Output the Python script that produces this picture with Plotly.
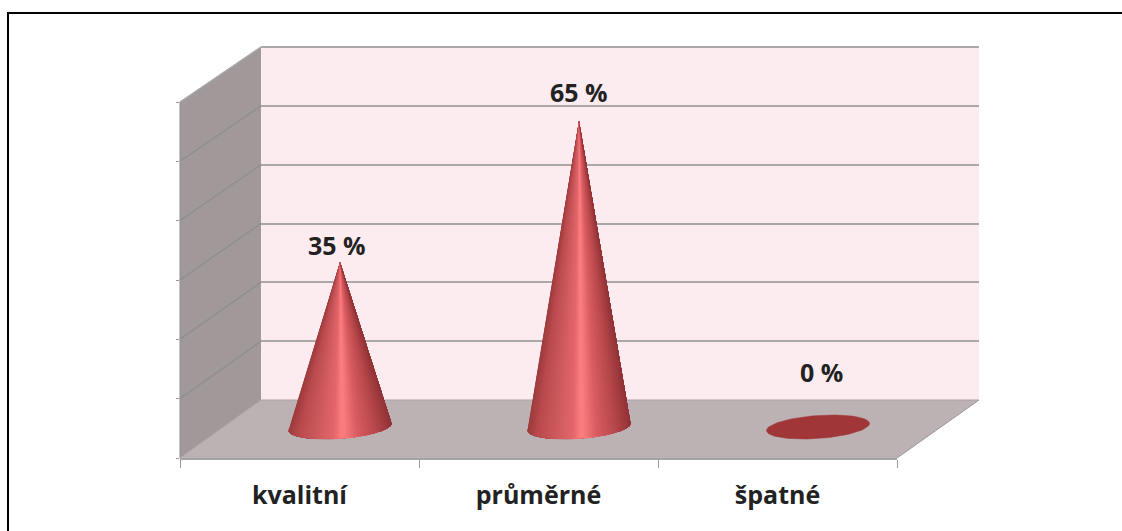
import numpy as np
import plotly.graph_objects as go

# ---- data ----
categories = ["kvalitní", "průměrné", "špatné"]
values = [35, 65, 0]
value_labels = ["35 %", "65 %", "0 %"]
value_ticks = [0, 12.5, 25, 37.5, 50, 62.5, 75]

# ---- style / geometry ----
W, H = 1122, 531
fx = lambda p: p / W
fy = lambda p: 1 - p / H
FONT = "Open Sans"
LEFT_WALL = "#a09899"
FLOOR = "#bcb2b4"
BACK = "#fcecf0"
GRID = "#aca7a9"
SLANT = "#8b8e8f"
TICK = "#9a9a9a"
CONE_A = 51.5 / 239      # base half width in category units
CONE_PX = 353 / 75       # pixels per percent on the cone axis
CONE_B = 11.5 / CONE_PX  # base half height in percent units
CONE_TILT = 3.5 / CONE_PX
label_shift = [(-3, 17), (0, 29), (3, 55)]

stops_u = [-1.0, -0.8, -0.45, -0.12, 0.05, 0.35, 0.7, 1.0]
stops_rgb = np.array([
    [158, 60, 62], [186, 74, 78], [206, 90, 94], [228, 102, 106],
    [255, 128, 130], [216, 92, 96], [184, 72, 76], [146, 52, 56]])


def shade(u):
    c = [int(np.interp(u, stops_u, stops_rgb[:, i])) for i in range(3)]
    return f"rgb({c[0]},{c[1]},{c[2]})"


fig = go.Figure()

# front axis carrying the category labels and the left-wall ticks
fig.add_trace(go.Scatter(x=categories, y=values, mode="markers", marker=dict(opacity=0),
                         xaxis="x", yaxis="y", hoverinfo="skip", showlegend=False))
# back wall axis carrying the gridlines
fig.add_trace(go.Scatter(x=categories, y=values, mode="markers", marker=dict(opacity=0),
                         xaxis="x2", yaxis="y2", hoverinfo="skip", showlegend=False))

# cones: each layer covers everything from its angle to the right edge, so no seams appear
for i, v in enumerate(values):
    t = np.linspace(0, 2 * np.pi, 90)
    fig.add_trace(go.Scatter(
        x=i + CONE_A * np.cos(t),
        y=CONE_B * np.sin(t) + CONE_TILT * np.cos(t),
        mode="lines", fill="toself", fillcolor="#a03638",
        line=dict(color="#a03638", width=0.5),
        xaxis="x3", yaxis="y3", hoverinfo="skip", showlegend=False))
    if v <= 0:
        continue
    angles = np.linspace(np.pi, 0, 61)
    for k in range(len(angles) - 1):
        ts = angles[k:]
        bx = i + CONE_A * np.cos(ts)
        by = -CONE_B * np.sin(ts) + CONE_TILT * np.cos(ts)
        col = shade(np.cos((angles[k] + angles[k + 1]) / 2))
        fig.add_trace(go.Scatter(
            x=np.concatenate([[i], bx, [i]]), y=np.concatenate([[v], by, [v]]),
            mode="none", fill="toself", fillcolor=col,
            xaxis="x3", yaxis="y3", hoverinfo="skip", showlegend=False))

annotations = [
    dict(x=i, y=v, xref="x3", yref="y3", text=f"<b>{lab}</b>", showarrow=False,
         xshift=s[0], yshift=s[1], font=dict(family=FONT, size=25, color="#222222"))
    for i, (v, lab, s) in enumerate(zip(values, value_labels, label_shift))
]


def poly(points, fill):
    path = "M " + " L ".join(f"{fx(a):.5f} {fy(b):.5f}" for a, b in points) + " Z"
    return dict(type="path", xref="paper", yref="paper", path=path, fillcolor=fill,
                line=dict(width=0), layer="below")


def seg(x0, y0, x1, y1, color, width, layer="below"):
    return dict(type="line", xref="paper", yref="paper", x0=fx(x0), y0=fy(y0), x1=fx(x1), y1=fy(y1),
                line=dict(color=color, width=width), layer=layer)


shapes = [
    poly([(261, 47), (979, 47), (979, 400), (261, 400)], BACK),
    poly([(180, 102), (261, 47), (261, 400), (180, 458)], LEFT_WALL),
    poly([(180, 458), (261, 400), (979, 400), (897, 458)], FLOOR),
    seg(180, 458, 261, 400, "#a8a2a4", 1),
    seg(897, 458, 979, 400, "#9a9698", 1),
    seg(180, 102, 261, 47, "#a8a8a8", 1.5),
    seg(180, 102, 180, 458, "#8f8f8f", 1),
    seg(261, 47, 979, 47, GRID, 2),
    seg(261, 400, 979, 400, "#a8a2a4", 1),
    seg(8, 13, 1122, 13, "#000000", 2, "above"),
    seg(8, 12, 8, 531, "#000000", 2, "above"),
]
for k in value_ticks[1:-1]:
    front = 458 - k * 356 / 75
    back = 400 - k * 353 / 75
    shapes.append(seg(180, front, 261, back, SLANT, 1.2))

fig.update_layout(
    width=W, height=H, autosize=False,
    margin=dict(l=0, r=0, t=0, b=0),
    paper_bgcolor="white", plot_bgcolor="rgba(0,0,0,0)",
    showlegend=False, shapes=shapes, annotations=annotations,
    xaxis=dict(domain=[fx(180), fx(897)], anchor="y", type="category", categoryorder="array",
               categoryarray=categories, range=[-0.5, 2.5], tickson="boundaries",
               ticks="outside", ticklen=8, tickwidth=1, tickcolor=TICK,
               showline=True, linecolor="#a6a3a4", linewidth=2, showgrid=False, zeroline=False,
               tickfont=dict(family=FONT, size=25, color="#222222"),
               ticklabelstandoff=14, tickprefix="<b>", ticksuffix="</b>", fixedrange=True),
    yaxis=dict(domain=[fy(458), fy(102)], anchor="x", range=[0, 75], tickmode="array",
               tickvals=value_ticks, showticklabels=False, ticks="outside", ticklen=3,
               tickcolor=TICK, showgrid=False, zeroline=False, showline=False, fixedrange=True),
    xaxis2=dict(domain=[fx(261), fx(979)], anchor="y2", type="category", categoryorder="array",
                categoryarray=categories, range=[-0.5, 2.5], visible=False, fixedrange=True),
    yaxis2=dict(domain=[fy(400), fy(47)], anchor="x2", range=[0, 75], tickmode="array",
                tickvals=value_ticks, showticklabels=False, ticks="", showgrid=True,
                gridcolor=GRID, gridwidth=2, zeroline=False, showline=False, fixedrange=True),
    xaxis3=dict(domain=[fx(220.5), fx(937.5)], anchor="y3", range=[-0.5, 2.5], visible=False, fixedrange=True),
    yaxis3=dict(domain=[fy(427 + 10 * CONE_PX), fy(427 - 75 * CONE_PX)], anchor="x3",
                range=[-10, 75], visible=False, fixedrange=True),
)

fig.write_html("out.html", config=dict(displayModeBar=False),
               post_script="document.body.style.margin='0';document.body.style.overflow='hidden';")
